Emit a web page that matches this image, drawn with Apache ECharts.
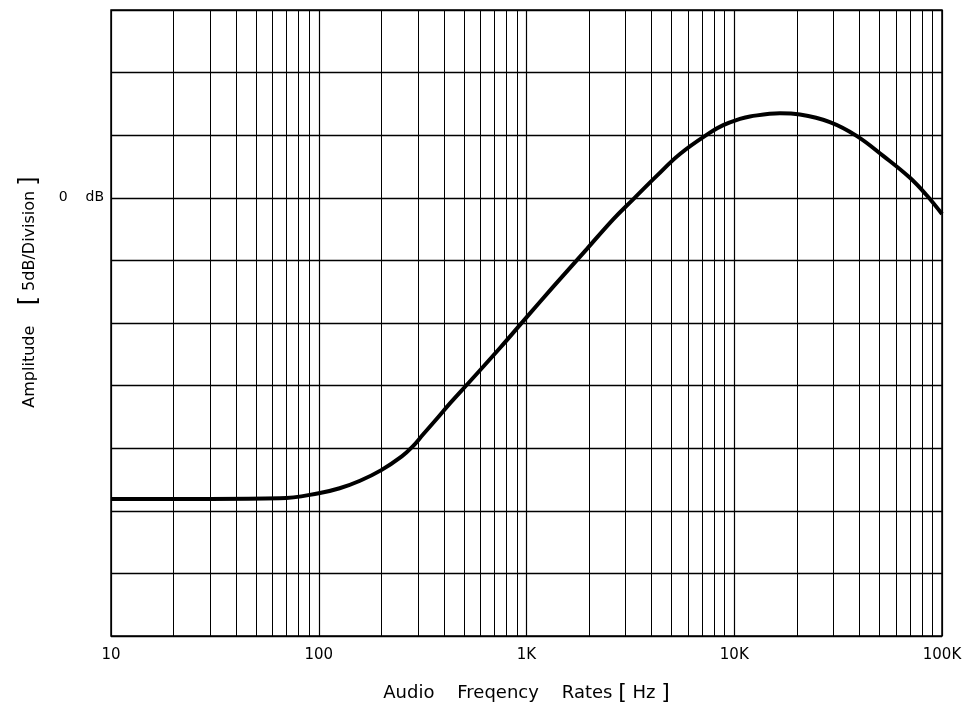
<!DOCTYPE html>
<html>
<head>
<meta charset="utf-8">
<script src="https://cdn.jsdelivr.net/npm/echarts@6/dist/echarts.min.js"></script>
<style>
html,body{margin:0;padding:0;background:#fff;}
#chart{width:972px;height:704px;}
</style>
</head>
<body>
<div id="chart"></div>
<script>
// Frequency (Hz) and amplitude (dB)
var frequencies = [10, 30, 65, 100, 126, 158, 200, 251, 282, 316, 370, 429, 535, 745, 1000, 1346, 1950, 2620, 3270, 4235, 5480, 7640, 8850, 10650, 11900, 16600, 20700, 28850, 38800, 52100, 70100, 84400, 100000];
var amplitudes  = [-24.05, -24.05, -24.0, -23.6, -23.2, -22.6, -21.75, -20.65, -19.9, -18.95, -17.65, -16.4, -14.65, -12.0, -9.55, -7.1, -4.1, -1.7, -0.1, 1.75, 3.5, 5.2, 5.8, 6.3, 6.5, 6.75, 6.65, 6.05, 4.95, 3.35, 1.6, 0.2, -1.3];

// Log-paper minor grid lines (Hz)
var minorGridFreqs = [20, 30, 40, 50, 60, 70, 80, 90,
                      200, 300, 400, 500, 600, 700, 800, 900,
                      2000, 3000, 4000, 5000, 6000, 7000, 8000, 9000,
                      20000, 30000, 40000, 50000, 60000, 70000, 80000, 90000];

// Tick labels per decade
var xTickLabels = ['10', '100', '1K', '10K', '100K'];
var yLabelZero = '0    dB';

var chart = echarts.init(document.getElementById('chart'));
var FONT = 'DejaVu Sans';

var seriesData = frequencies.map(function (f, i) { return [f, amplitudes[i]]; });

var option = {
  animation: false,
  backgroundColor: '#fff',
  grid: {
    left: 111, right: 30, top: 10, bottom: 68,
    containLabel: false,
    outerBoundsMode: 'none',
    show: true, borderColor: '#000', borderWidth: 1.5, backgroundColor: 'transparent'
  },
  xAxis: {
    type: 'log',
    logBase: 10,
    min: 10,
    max: 100000,
    interval: 1,
    axisLine: { show: false },
    axisTick: { show: false },
    splitLine: { show: true, lineStyle: { color: '#000', width: 1.2 } },
    axisLabel: {
      color: '#000', fontFamily: FONT, fontSize: 15, margin: 12,
      formatter: function (v) {
        var k = Math.round(Math.log10(v)) - 1;
        return xTickLabels[k] !== undefined ? xTickLabels[k] : '';
      }
    },
    name: 'Audio    Freqency    Rates {b|[} Hz {b|]}',
    nameLocation: 'middle',
    nameGap: 46,
    nameTextStyle: {
      color: '#000', fontFamily: FONT, fontSize: 18,
      rich: { b: { fontSize: 22, fontFamily: FONT, color: '#000' } }
    }
  },
  yAxis: {
    type: 'value',
    min: -35,
    max: 15,
    interval: 5,
    axisLine: { show: false },
    axisTick: { show: false },
    splitLine: { show: true, lineStyle: { color: '#000', width: 1.4 } },
    axisLabel: {
      color: '#000', fontFamily: FONT, fontSize: 14, margin: 7,
      padding: [0, 0, 12, 0],
      formatter: function (v) { return Math.abs(v) < 1e-9 ? yLabelZero : ''; }
    }
  },
  graphic: [{
    type: 'text',
    x: 30,
    y: 292,
    rotation: Math.PI / 2,
    style: {
      text: 'Amplitude    {b|[} 5dB/Division {b|]}',
      fill: '#000',
      font: '16px "DejaVu Sans"',
      align: 'center',
      verticalAlign: 'middle',
      rich: { b: { fontSize: 24, fontFamily: FONT, fill: '#000' } }
    }
  }],
  series: [{
    type: 'line',
    data: seriesData,
    smooth: 0.4,
    showSymbol: false,
    symbol: 'none',
    lineStyle: { color: '#000', width: 4 },
    z: 5,
    markLine: {
      silent: true,
      symbol: ['none', 'none'],
      label: { show: false },
      lineStyle: { color: '#000', type: 'solid', width: 1 },
      emphasis: { disabled: true },
      data: minorGridFreqs.map(function (f) { return { xAxis: f }; })
    }
  }]
};
chart.setOption(option);
</script>
</body>
</html>
